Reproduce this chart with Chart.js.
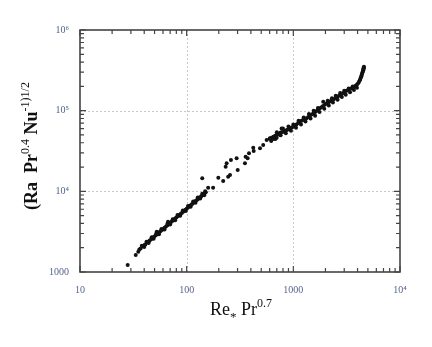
<!DOCTYPE html>
<html>
<head>
<meta charset="utf-8">
<script src="https://cdn.jsdelivr.net/npm/chart.js@4/dist/chart.umd.min.js"></script>
<style>
  body { margin: 0; background: #fff; }
  canvas { display: block; }
</style>
</head>
<body>
<canvas id="chart" width="432" height="347"></canvas>
<script>
// axis ticks (every 1..9 x decade), labels only at decades
const xTicks = [10,20,30,40,50,60,70,80,90,100,200,300,400,500,600,700,800,900,1000,2000,3000,4000,5000,6000,7000,8000,9000,10000];
const yTicks = [1000,2000,3000,4000,5000,6000,7000,8000,9000,1e4,2e4,3e4,4e4,5e4,6e4,7e4,8e4,9e4,1e5,2e5,3e5,4e5,5e5,6e5,7e5,8e5,9e5,1e6];
const xLabels = { 10: '10', 100: '100', 1000: '1000', 10000: '10\u2074' };
const yLabels = { 1000: '1000', 10000: '10\u2074', 100000: '10\u2075', 1000000: '10\u2076' };
const xGrid = [100, 1000];
const yGrid = [1e4, 1e5];

// first few sparse points at low Re
const startX = [28, 33.3, 35.2];
const startY = [1220, 1625, 1785];

// dense lower line (rows across its width)
const lineX = [37,39,41,43,45,48,51,54,57,60,64,68,72,76,80,85,90,95,100,106,112,118,124,130,137,144,151,
  38,42,47,52,58,66,74,82,92,103,115,127,140,149,
  40,44,49,55,62,70,78,87,98,109,121,134,146,
  36,40.5,44,46.5,49.5,52.5,55.5,58.5,62,66,70,74,78,82.5,87.5,92.5,97.5,103,109,115,121,127,133.5,140.5,147.5,
  52.4,66.8];
const lineY = [1960,2090,2200,2330,2450,2640,2830,3010,3220,3400,3670,3920,4200,4450,4730,5060,5400,5760,6090,6520,6930,7370,7780,8230,8720,9250,9740,
  2114,2369,2693,3022,3423,3966,4518,5080,5791,6586,7469,8364,9347,10035,
  2047,2282,2581,2944,3375,3875,4384,4966,5687,6420,7231,8125,8960,
  1902,2175,2390,2546,2734,2924,3114,3308,3534,3795,4058,4323,4591,4895,5234,5577,5920,6302,6723,7147,7572,8004,8472,8982,9494,
  3160,4200];

// scattered transition points
const scatX = [140,159,177,198,220,232,237,245,255,260,294,301,352,357,373,384,421,425,487,522,562,604,649,698,749];
const scatY = [14500,11080,11080,14740,13420,20170,22230,15170,15920,24430,25640,18370,22230,26840,25640,29580,34670,31580,34120,37500,43250,45400,44460,46100,49850];

// upper band up to the hook
const bandX = [600,650,700,760,820,870,930,1000,1070,1150,1240,1330,1430,1540,1650,1770,1900,2050,2200,2370,2540,2730,2940,3160,3400,3640,3850,4050,4200,4300,4370,4450,4520,4560,4590,
  625,675,730,790,845,900,965,1035,1110,1195,1285,1380,1485,1595,1710,1835,1975,2125,2285,2455,2635,2835,3050,3280,3520,3750,3950,4130,4250,4340,4410,4490,4540,4575,
  700,776,800,900,1000,1120,1250,1400,1550,1700,1907,2100,2300,2500,2750,3000,3300,3600,
  620,680,760,850,950,1060,1180,1300,1450,1600,1760,1950,2150,2350,2600,2850,3100,3400,3700,3950];
const bandY = [45000,47500,50500,53500,55500,57500,60500,63000,67500,73000,77000,80500,86500,92500,99000,107000,114000,123000,130000,138000,146000,156000,166000,176500,186000,194000,204000,218000,238000,258000,277000,298000,318000,335000,350000,
  46200,49000,52000,54500,56500,59000,61700,65200,70200,75000,78700,83400,89500,95700,103000,110500,118500,126500,134000,142000,151000,161000,171000,181000,190000,199000,211000,228000,248000,267000,287000,308000,326000,342000,
  54000,60300,60000,63500,67500,75000,82500,91000,99500,108000,129000,133000,143000,153000,165000,176000,188000,200000,
  42000,44500,49500,52500,56500,61500,67500,73500,80000,86500,96000,106000,116000,126000,137000,148000,158000,169000,181000,193000];

const pts = (xs, ys) => xs.map((x, i) => ({ x: x, y: ys[i] }));
const serif = '"Liberation Serif", "DejaVu Serif", serif';
const labelColor = '#55628f';

function drawRuns(ctx, runs) {
  let w = 0;
  runs.forEach(r => { ctx.font = r.font; w += ctx.measureText(r.t).width; });
  let x = -w / 2;
  runs.forEach(r => {
    ctx.font = r.font;
    ctx.fillText(r.t, x, r.dy || 0);
    x += ctx.measureText(r.t).width;
  });
}

const framePlugin = {
  id: 'frame',
  beforeDatasetsDraw(chart) {
    const { ctx, chartArea: a, scales: { x, y } } = chart;
    ctx.save();
    ctx.strokeStyle = '#c8c8c8';
    ctx.lineWidth = 1;
    ctx.setLineDash([2, 2]);
    xGrid.forEach(v => {
      const px = Math.round(x.getPixelForValue(v)) + 0.5;
      ctx.beginPath(); ctx.moveTo(px, a.top); ctx.lineTo(px, a.bottom); ctx.stroke();
    });
    yGrid.forEach(v => {
      const py = Math.round(y.getPixelForValue(v)) + 0.5;
      ctx.beginPath(); ctx.moveTo(a.left, py); ctx.lineTo(a.right, py); ctx.stroke();
    });
    ctx.restore();
  },
  afterDraw(chart) {
    const { ctx, chartArea: a, scales: { x, y } } = chart;
    ctx.save();
    ctx.strokeStyle = '#444';
    ctx.lineWidth = 1.2;
    // inward tick marks on all four sides
    xTicks.forEach(v => {
      const px = x.getPixelForValue(v);
      const len = xLabels[v] ? 6 : 4;
      ctx.beginPath();
      ctx.moveTo(px, a.bottom); ctx.lineTo(px, a.bottom - len);
      ctx.moveTo(px, a.top); ctx.lineTo(px, a.top + len);
      ctx.stroke();
    });
    yTicks.forEach(v => {
      const py = y.getPixelForValue(v);
      const len = yLabels[v] ? 6 : 4;
      ctx.beginPath();
      ctx.moveTo(a.left, py); ctx.lineTo(a.left + len, py);
      ctx.moveTo(a.right, py); ctx.lineTo(a.right - len, py);
      ctx.stroke();
    });
    ctx.lineWidth = 1.6;
    ctx.strokeRect(a.left, a.top, a.right - a.left, a.bottom - a.top);

    // axis titles with super/subscripts
    ctx.fillStyle = '#111';
    ctx.textBaseline = 'alphabetic';
    ctx.save();
    ctx.translate(241, 315);
    drawRuns(ctx, [
      { t: 'Re', font: '18px ' + serif },
      { t: '*', font: '13px ' + serif, dy: 6 },
      { t: ' Pr', font: '18px ' + serif },
      { t: '0.7', font: '12px ' + serif, dy: -8 }
    ]);
    ctx.restore();

    ctx.save();
    ctx.translate(37, 146);
    ctx.rotate(-Math.PI / 2);
    drawRuns(ctx, [
      { t: '(Ra  Pr', font: 'bold 18px ' + serif },
      { t: '0.4', font: '12px ' + serif, dy: -8 },
      { t: ' Nu', font: 'bold 18px ' + serif },
      { t: '-1)1/2', font: '12px ' + serif, dy: -8 }
    ]);
    ctx.restore();
    ctx.restore();
  }
};

const dotStyle = { backgroundColor: '#111', borderWidth: 0, pointRadius: 2, pointHoverRadius: 2 };

new Chart(document.getElementById('chart'), {
  type: 'scatter',
  data: {
    datasets: [
      Object.assign({ label: 'start', data: pts(startX, startY) }, dotStyle),
      Object.assign({ label: 'line', data: pts(lineX, lineY) }, dotStyle),
      Object.assign({ label: 'scatter', data: pts(scatX, scatY) }, dotStyle),
      Object.assign({ label: 'band', data: pts(bandX, bandY) }, dotStyle)
    ]
  },
  options: {
    responsive: false,
    animation: false,
    layout: { padding: { left: 0, top: 30, right: 32, bottom: 0 } },
    plugins: { legend: { display: false }, tooltip: { enabled: false } },
    scales: {
      x: {
        type: 'logarithmic',
        min: 10,
        max: 10000,
        afterBuildTicks: s => { s.ticks = xTicks.map(v => ({ value: v })); },
        afterFit: s => { s.height = 75; },
        grid: { display: false },
        border: { display: false },
        ticks: {
          autoSkip: false,
          maxRotation: 0,
          padding: 4,
          color: labelColor,
          font: { family: serif, size: 10 },
          callback: v => xLabels[v] || ''
        }
      },
      y: {
        type: 'logarithmic',
        min: 1000,
        max: 1e6,
        afterBuildTicks: s => { s.ticks = yTicks.map(v => ({ value: v })); },
        afterFit: s => { s.width = 80; },
        grid: { display: false },
        border: { display: false },
        ticks: {
          autoSkip: false,
          padding: 3,
          color: labelColor,
          font: { family: serif, size: 10 },
          callback: v => yLabels[v] || ''
        }
      }
    }
  },
  plugins: [framePlugin]
});
</script>
</body>
</html>
